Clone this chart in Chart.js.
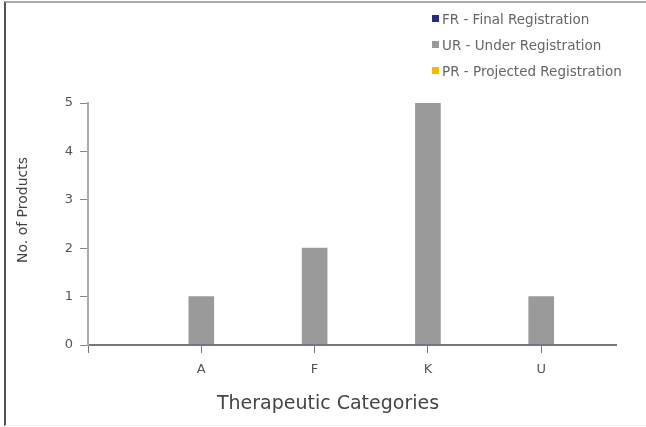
<!DOCTYPE html>
<html>
<head>
<meta charset="utf-8">
<script src="https://cdn.jsdelivr.net/npm/chart.js@4/dist/chart.umd.min.js"></script>
<style>
  body { margin: 0; background: #fff; }
  #wrap { position: relative; width: 646px; height: 427px; }
  #frame { position: absolute; left: 4px; top: 1px; right: 0; bottom: 1px;
    border-left: 2px solid #555; border-top: 2px solid #aaa; border-bottom: 1px solid #eee; }
  #legend { position: absolute; left: 432px; top: 10px; font-family: "DejaVu Sans", sans-serif;
    font-size: 13.5px; color: #666; }
  #legend div { height: 26px; line-height: 18px; white-space: nowrap; }
  #legend span { display: inline-block; width: 7px; height: 7px; margin-right: 3px; vertical-align: 2px; }
  canvas { position: absolute; left: 0; top: 0; }
</style>
</head>
<body>
<div id="wrap">
  <div id="frame"></div>
  <canvas id="myChart" width="646" height="427"></canvas>
  <div id="legend"></div>
</div>
<script>
var categories = ['A', 'F', 'K', 'U'];
var seriesNames = ['FR - Final Registration', 'UR - Under Registration', 'PR - Projected Registration'];
var seriesColors = ['#2b2b7e', '#9a9a9a', '#f5b800'];
var frValues = [0, 0, 0, 0];
var urValues = [1, 2, 5, 1];
var prValues = [0, 0, 0, 0];
var yTicks = [0, 1, 2, 3, 4, 5];
var xTitle = 'Therapeutic Categories';
var yTitle = 'No. of Products';

function points(values) {
  return values.map(function (v, i) { return { x: i + 1, y: v }; });
}

var allValues = [frValues, urValues, prValues];
var datasets = allValues.map(function (vals, i) {
  return {
    label: seriesNames[i],
    data: points(vals),
    backgroundColor: seriesColors[i],
    borderWidth: 0,
    barThickness: 25,
    grouped: false
  };
});

// axis titles, centred like the original (on the page, not the plot)
var titlePlugin = {
  id: 'titles',
  afterDraw: function (chart) {
    var c = chart.ctx;
    c.save();
    c.fillStyle = '#444';
    c.textAlign = 'center';
    c.textBaseline = 'middle';
    c.font = '19px "DejaVu Sans"';
    c.fillText(xTitle, 328, 404);
    c.translate(23, 210);
    c.rotate(-Math.PI / 2);
    c.font = '14px "DejaVu Sans"';
    c.fillText(yTitle, 0, 0);
    c.restore();
  }
};

var ctx = document.getElementById('myChart').getContext('2d');
var myChart = new Chart(ctx, {
  type: 'bar',
  data: { datasets: datasets },
  plugins: [titlePlugin],
  options: {
    responsive: false,
    animation: false,
    layout: { padding: { left: 0, right: 30, top: 103, bottom: 0 } },
    plugins: { legend: { display: false }, tooltip: { enabled: false } },
    scales: {
      x: {
        type: 'linear',
        min: 0,
        max: 4.66,
        offset: false,
        afterBuildTicks: function (scale) {
          scale.ticks = [0, 1, 2, 3, 4].map(function (v) { return { value: v }; });
        },
        afterFit: function (scale) { scale.height = 82; },
        ticks: {
          autoSkip: false,
          maxRotation: 0,
          padding: 9,
          color: '#555',
          font: { family: 'DejaVu Sans', size: 13 },
          callback: function (v) { return v >= 1 ? categories[v - 1] : ''; }
        },
        grid: { offset: false, drawOnChartArea: false, drawTicks: true, tickLength: 8, color: '#777', lineWidth: 1 },
        border: { color: '#777', width: 2 }
      },
      y: {
        min: 0,
        max: 5,
        afterBuildTicks: function (scale) {
          scale.ticks = yTicks.map(function (v) { return { value: v }; });
        },
        afterFit: function (scale) { scale.width = 88; },
        ticks: {
          padding: 7,
          color: '#555',
          font: { family: 'DejaVu Sans', size: 13 }
        },
        grid: { drawOnChartArea: false, drawTicks: true, tickLength: 8, color: '#888', lineWidth: 1 },
        border: { color: '#aaa', width: 2 }
      }
    }
  }
});

var legendEl = document.getElementById('legend');
myChart.data.datasets.forEach(function (ds) {
  var row = document.createElement('div');
  var sw = document.createElement('span');
  sw.style.background = ds.backgroundColor;
  row.appendChild(sw);
  row.appendChild(document.createTextNode(ds.label));
  legendEl.appendChild(row);
});
</script>
</body>
</html>
